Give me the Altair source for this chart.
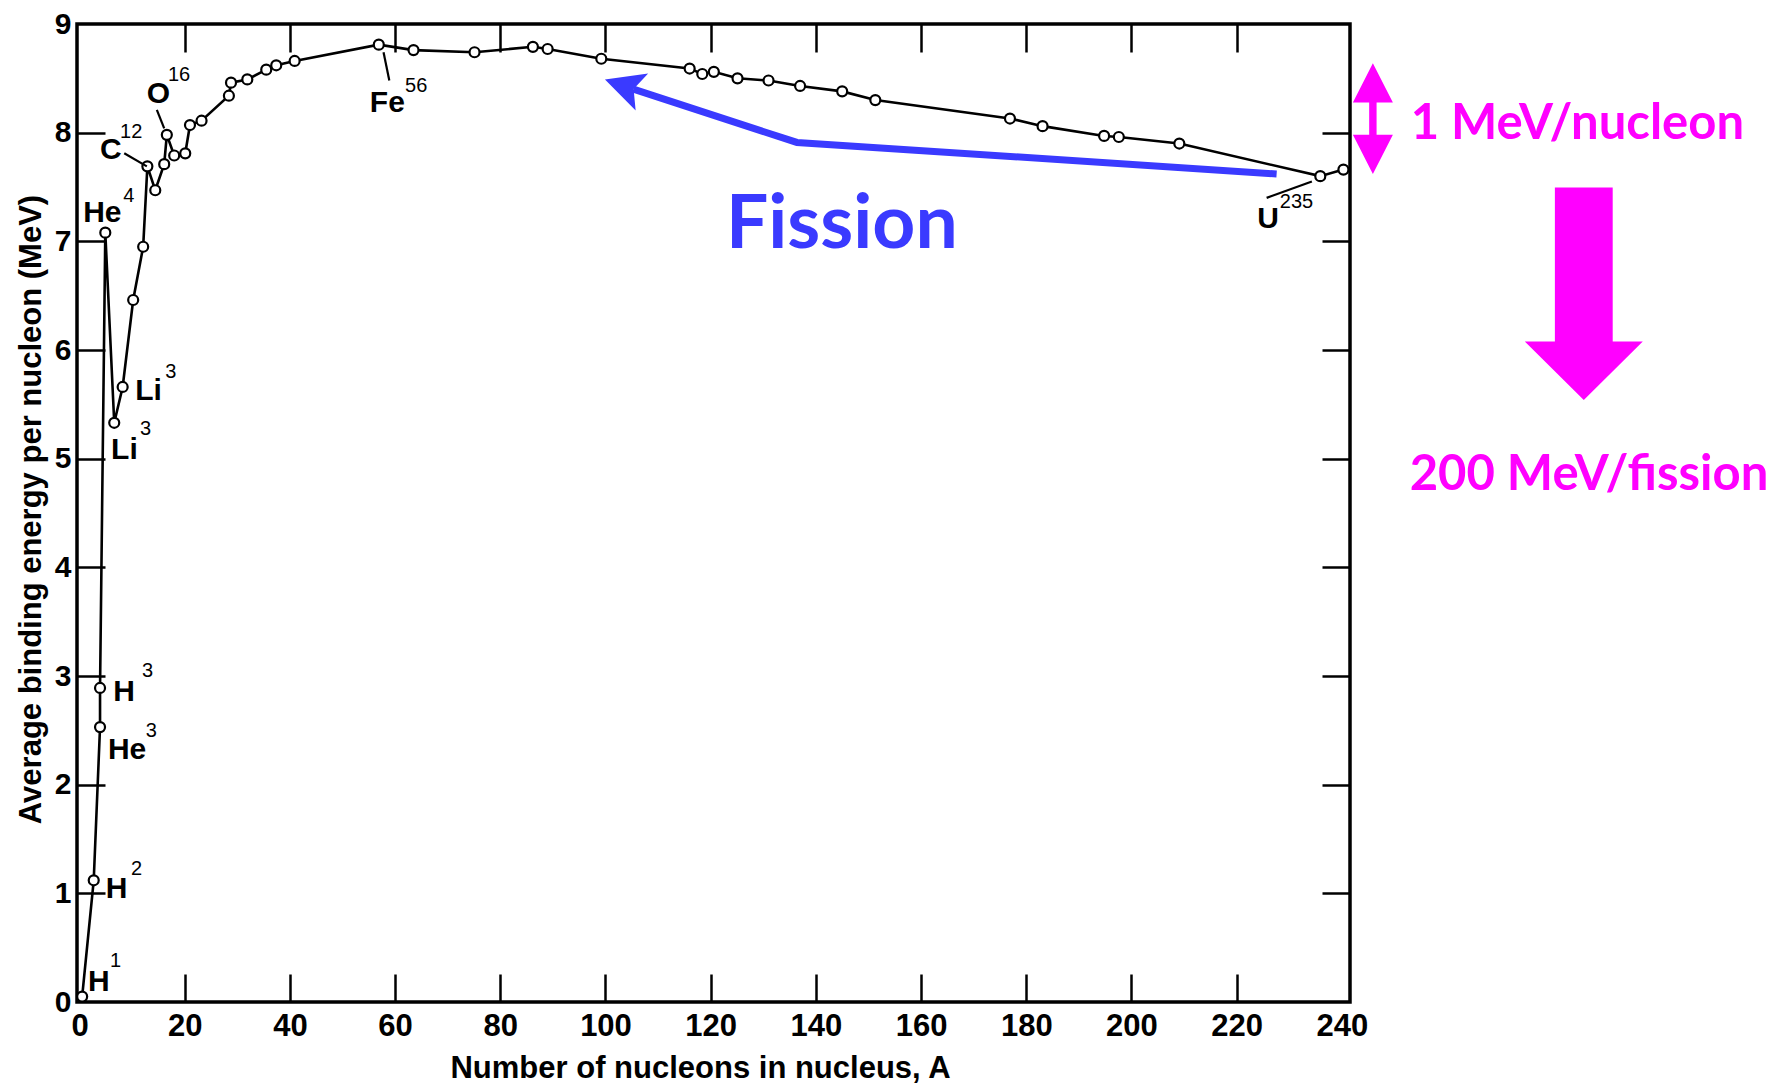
import altair as alt
import pandas as pd

# ---------------- data ----------------
mass_number = [0.5, 2.7, 3.9, 3.9, 4.9, 6.6, 8.2, 10.2, 12.1, 12.9, 14.4, 16.1, 16.6, 18.0,
               20.1, 21.0, 23.2, 28.4, 28.8, 31.9, 35.5, 37.4, 40.9, 56.9, 63.5, 75.1,
               86.2, 89.0, 99.2, 116.0, 118.4, 120.6, 125.1, 131.0, 137.0, 145.0, 151.3,
               176.9, 183.1, 194.8, 197.6, 209.1, 235.9, 240.3]
binding_energy = [0.05, 1.12, 2.53, 2.89, 7.08, 5.33, 5.66, 6.46, 6.95, 7.69, 7.47, 7.71, 7.98, 7.79,
                  7.81, 8.07, 8.11, 8.34, 8.46, 8.49, 8.58, 8.62, 8.66, 8.81, 8.76, 8.74,
                  8.79, 8.77, 8.68, 8.59, 8.54, 8.56, 8.50, 8.48, 8.43, 8.38, 8.30,
                  8.13, 8.06, 7.97, 7.96, 7.90, 7.60, 7.66]

# nuclide labels (symbol + mass-number superscript)
sym_text = ["H", "H", "He", "H", "Li", "Li", "He", "C", "O", "Fe", "U"]
sym_A = [1.6, 5.0, 5.4, 6.4, 6.0, 10.6, 0.7, 3.9, 12.8, 55.2, 223.9]
sym_BE = [0.10, 0.96, 2.24, 2.77, 5.00, 5.54, 7.18, 7.76, 8.27, 8.19, 7.12]
sup_text = ["1", "2", "3", "3", "3", "3", "4", "12", "16", "56", "235"]
sup_A = [5.8, 9.8, 12.6, 11.9, 11.5, 16.3, 8.3, 7.7, 16.8, 61.9, 228.2]
sup_BE = [0.32, 1.17, 2.44, 2.99, 5.22, 5.74, 7.36, 7.95, 8.48, 8.37, 7.31]

# leader lines from labels to points
lead_A1 = [8.5, 14.7, 57.8, 225.7]
lead_BE1 = [7.81, 8.21, 8.74, 7.40]
lead_A2 = [12.8, 16.1, 58.9, 234.3]
lead_BE2 = [7.69, 8.04, 8.48, 7.55]

# blue "Fission" arrow
fission_A = [227.6, 136.4, 105.3]
fission_BE = [7.62, 7.91, 8.40]
fission_tip_A = [99.9]
fission_tip_BE = [8.49]
fission_label = ["Fission"]
fission_label_A = [122.9]
fission_label_BE = [6.94]

# magenta annotations
mev_labels = ["1 MeV/nucleon", "200 MeV/fission"]
mev_A = [253.1, 252.9]
mev_BE = [7.94, 4.71]
double_arrow_A = [245.9]
double_arrow_BE = [8.13]
down_arrow_A = [286.0]
down_arrow_BE = [5.54]

x_label_values = [0, 20, 40, 60, 80, 100, 120, 140, 160, 180, 200, 220, 240]
x_tick_values = [20, 40, 60, 80, 100, 120, 140, 160, 180, 200, 220]
y_label_values = [0, 1, 2, 3, 4, 5, 6, 7, 8, 9]
y_tick_values = [1, 2, 3, 4, 5, 6, 7, 8]

# ---------------- styling ----------------
W, H = 1273, 978
FONT = "Liberation Sans, Arial, Helvetica, sans-serif"
CAL = "Lato, Open Sans, sans-serif"
BLUE = "#3A3AFF"
MAG = "#FF00FF"

xs = alt.Scale(domain=[-0.48, 241.55], nice=False, zero=False)
ys = alt.Scale(domain=[0, 9], nice=False, zero=False)

ax_x_main = alt.Axis(orient="bottom", values=x_label_values, ticks=False, tickSize=0, domain=False,
                     grid=False, labelFont=FONT, labelFontSize=31, labelFontWeight="bold",
                     labelColor="black", labelPadding=9, labelFlush=False, labelOverlap=False,
                     title="Number of nucleons in nucleus, A", titleFont=FONT, titleFontSize=31,
                     titleFontWeight="bold", titleColor="black", titleX=623, titleY=75,
                     titleAlign="center", titleBaseline="alphabetic")
ax_y_main = alt.Axis(orient="left", values=y_label_values, ticks=False, tickSize=0, domain=False,
                     grid=False, labelFont=FONT, labelFontSize=30, labelFontWeight="bold",
                     labelColor="black", labelPadding=6, labelFlush=False, labelOverlap=False,
                     title="Average binding energy per nucleon (MeV)", titleFont=FONT,
                     titleFontSize=31, titleFontWeight="bold", titleColor="black",
                     titleX=-46, titleY=485, titleAngle=270, titleAlign="center",
                     titleBaseline="middle")


def tick_axis(orient, offset, values):
    return alt.Axis(orient=orient, offset=offset, values=values, labels=False, ticks=True,
                    tickSize=28, tickWidth=2.5, tickColor="black", domain=False, grid=False,
                    title=None)


curve = pd.DataFrame({"A": mass_number, "BE": binding_energy, "i": list(range(len(mass_number)))})
syms = pd.DataFrame({"A": sym_A, "BE": sym_BE, "t": sym_text})
sups = pd.DataFrame({"A": sup_A, "BE": sup_BE, "t": sup_text})
leads = pd.DataFrame({"A": lead_A1, "BE": lead_BE1, "A2": lead_A2, "BE2": lead_BE2})
fis = pd.DataFrame({"A": fission_A, "BE": fission_BE, "i": list(range(len(fission_A)))})
fis_tip = pd.DataFrame({"A": fission_tip_A, "BE": fission_tip_BE})
fis_lab = pd.DataFrame({"A": fission_label_A, "BE": fission_label_BE, "t": fission_label})
mev = pd.DataFrame({"A": mev_A, "BE": mev_BE, "t": mev_labels})
dbl = pd.DataFrame({"A": double_arrow_A, "BE": double_arrow_BE})
down = pd.DataFrame({"A": down_arrow_A, "BE": down_arrow_BE})


def X(axis=None):
    return alt.X("A:Q", scale=xs, axis=axis)


def Y(axis=None):
    return alt.Y("BE:Q", scale=ys, axis=axis)


line_layer = alt.Chart(curve).mark_line(color="black", strokeWidth=2.6).encode(
    x=X(ax_x_main), y=Y(ax_y_main), order="i:Q")

pts_layer = alt.Chart(curve).mark_point(shape="circle", fill="white", fillOpacity=1, stroke="black",
                                        strokeWidth=2.2, size=100, opacity=1).encode(
    x=X(tick_axis("top", -H, x_tick_values)), y=Y(tick_axis("right", -W, y_tick_values)))

lead_layer = alt.Chart(leads).mark_rule(color="black", strokeWidth=2.2).encode(
    x=X(tick_axis("bottom", -H, x_tick_values)), y=Y(tick_axis("left", -W, y_tick_values)),
    x2="A2:Q", y2="BE2:Q")

sym_layer = alt.Chart(syms).mark_text(align="left", baseline="alphabetic", font=FONT, fontSize=30,
                                      fontWeight="bold", color="black").encode(
    x=X(), y=Y(), text="t:N")

sup_layer = alt.Chart(sups).mark_text(align="left", baseline="alphabetic", font=FONT, fontSize=20,
                                      color="black").encode(
    x=X(), y=Y(), text="t:N")

fis_line = alt.Chart(fis).mark_line(color=BLUE, strokeWidth=7, strokeCap="butt",
                                    strokeJoin="miter").encode(x=X(), y=Y(), order="i:Q")

fis_head = alt.Chart(fis_tip).mark_point(shape="M0,0 L1,2 L0,1.55 L-1,2 Z", filled=True, fill=BLUE,
                                         fillOpacity=1, strokeWidth=0, size=1521, angle=288.7,
                                         opacity=1).encode(x=X(), y=Y())

fis_text = alt.Chart(fis_lab).mark_text(align="left", baseline="alphabetic", font=CAL, fontSize=75,
                                        fontWeight="bold", color=BLUE).encode(
    x=X(), y=Y(), text="t:N")

mev_text = alt.Chart(mev).mark_text(align="left", baseline="alphabetic", font=CAL, fontSize=49,
                                    fontWeight="bold", color=MAG).encode(
    x=X(), y=Y(), text="t:N")

dbl_arrow = alt.Chart(dbl).mark_point(
    shape="M0,-2.77 L1,-0.8 L0.185,-0.8 L0.185,0.815 L1,0.815 L0,2.77 L-1,0.815 L-0.185,0.815 "
          "L-0.185,-0.8 L-1,-0.8 Z",
    filled=True, fill=MAG, fillOpacity=1, strokeWidth=0, size=1600, opacity=1).encode(x=X(), y=Y())

down_arrow = alt.Chart(down).mark_point(
    shape="M0,0 L-1,-0.99 L-0.49,-0.99 L-0.49,-3.6 L0.49,-3.6 L0.49,-0.99 L1,-0.99 Z",
    filled=True, fill=MAG, fillOpacity=1, strokeWidth=0, size=13924, opacity=1).encode(x=X(), y=Y())

chart = alt.layer(
    line_layer, pts_layer, lead_layer, sym_layer, sup_layer,
    fis_line, fis_head, fis_text, mev_text, dbl_arrow, down_arrow
).resolve_scale(x="shared", y="shared").resolve_axis(x="independent", y="independent").properties(
    width=W, height=H,
    autosize=alt.AutoSizeParams(type="none"),
    padding={"left": 77, "top": 24, "right": 435, "bottom": 85},
    background="white",
).configure_view(stroke="black", strokeWidth=3.5)

chart.save("out.html", embed_options={"renderer": "svg", "actions": False})
